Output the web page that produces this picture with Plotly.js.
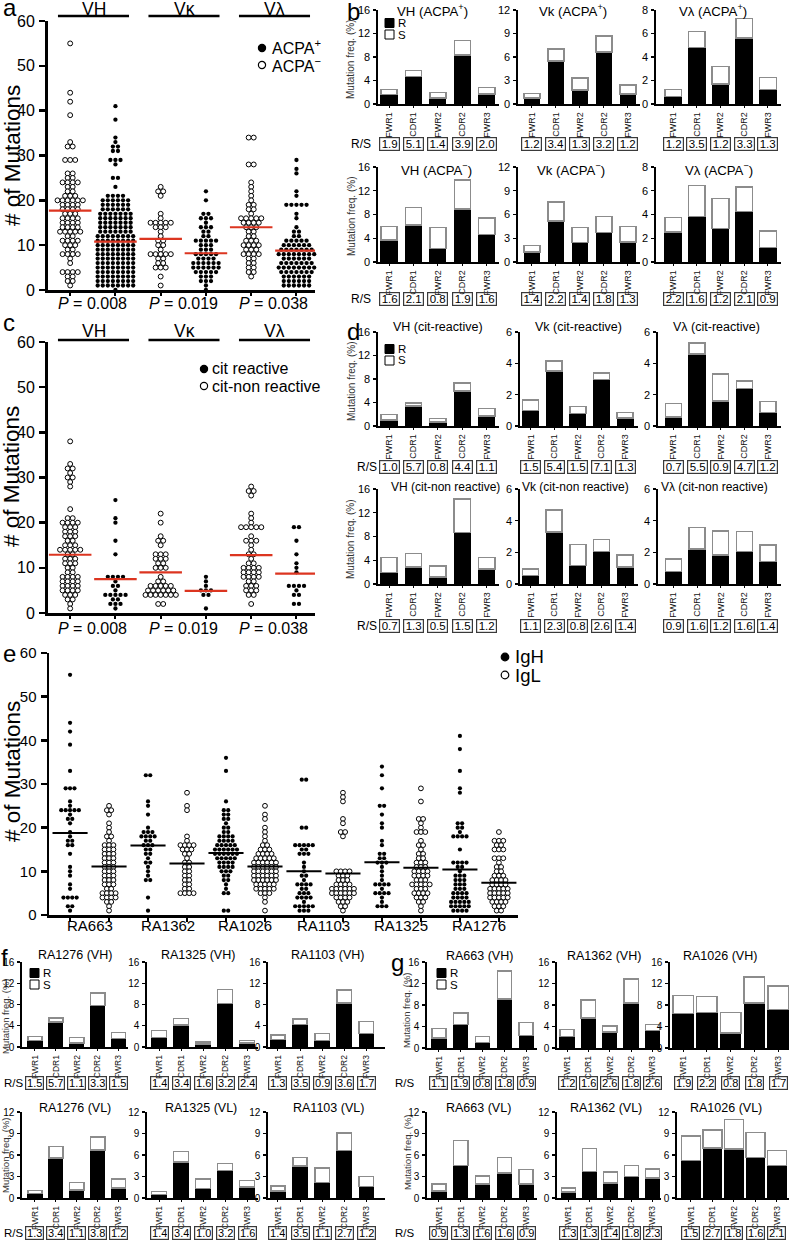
<!DOCTYPE html>
<html><head><meta charset="utf-8">
<script src="https://cdn.plot.ly/plotly-3.0.1.min.js"></script>
<style>html,body{margin:0;padding:0;background:#fff}#chart{width:789px;height:1242px}</style>
</head><body><div id="chart"></div>
<script>
// ---------------- DATA ----------------
const regions=['FWR1','CDR1','FWR2','CDR2','FWR3'];
const vGroups=['VH','Vκ','Vλ'];
const aPvals=['0.008','0.019','0.038'];
const cPvals=['0.008','0.019','0.038'];
const patients=['RA663','RA1362','RA1026','RA1103','RA1325','RA1276'];

// panel a: number of mutations (ACPA- open, ACPA+ filled)
const aVHneg=[55,44,42,39,33,32,32,29,29,29,26,26,25,25,24,24,24,24,23,23,22,22,21,21,21,20,20,20,20,20,20,19,19,19,19,18,18,18,18,17,17,17,16,16,16,16,15,15,15,15,14,14,14,14,13,13,13,13,13,12,12,11,11,11,11,10,10,10,9,9,8,8,8,8,7,6,4,4,4,4,3,3,2,2,1];
const aVHpos=[41,38,34,33,32,32,31,31,29,29,29,28,25,25,23,21,21,21,21,20,20,20,20,20,20,19,19,19,19,19,19,18,18,18,18,18,18,17,17,17,17,17,17,17,16,16,16,16,16,16,16,15,15,15,15,15,15,15,14,14,14,14,14,14,14,13,13,13,13,13,13,13,12,12,12,12,12,12,12,12,11,11,11,11,11,11,11,11,10,10,10,10,10,10,10,10,9,9,9,9,9,9,9,9,8,8,8,8,8,8,8,8,7,7,7,7,7,7,7,7,6,6,6,6,6,6,6,6,5,5,5,5,5,5,5,5,4,4,4,4,4,4,4,4,3,3,3,3,3,3,3,3,2,2,2,2,2,2,2,2,1,1,1,1,1,1,1,1,0];
const aVkneg=[23,22,22,21,17,16,15,15,15,15,15,14,14,14,13,12,11,11,10,10,9,8,8,8,8,8,7,7,6,6,5,5,5,3,1];
const aVkpos=[22,20,17,17,16,16,16,15,14,14,14,13,13,12,12,11,11,11,11,11,10,10,10,9,9,9,8,8,8,8,8,7,7,7,7,6,6,6,6,6,6,5,5,5,5,5,5,4,4,4,4,4,3,3,3,2,2,2,1,0];
const aVlneg=[34,34,28,28,24,23,22,21,20,19,19,18,18,17,16,16,16,16,16,15,15,15,15,14,14,14,13,13,12,12,11,11,11,10,10,10,10,9,9,9,8,8,8,8,7,7,6,6,5,5,4,4,3];
const aVlpos=[29,27,26,22,21,19,19,19,19,19,17,16,14,13,13,12,12,11,11,11,11,11,10,10,10,10,10,10,9,9,9,9,9,9,9,8,8,8,8,8,8,8,8,7,7,7,7,7,7,6,6,6,6,6,6,6,5,5,5,5,5,5,5,5,4,4,4,4,4,4,4,3,3,3,3,3,3,2,2,2,2,2,2,1,1,1,1,1,1];
const aMedians=[17.7,10.8,11.4,8.2,14.0,8.8];

// panel c: cit non-reactive (open) / cit reactive (filled)
const cVHneg=[38,33,32,32,31,30,30,29,28,23,21,21,20,20,20,20,19,19,19,18,18,18,17,17,17,16,16,15,15,15,14,14,14,14,14,13,13,12,12,12,11,11,11,10,10,9,9,8,8,8,8,7,7,7,7,6,6,6,6,5,5,5,5,4,4,4,3,3,2,1];
const cVHpos=[25,21,20,16,13,8,8,8,8,7,6,6,5,4,4,4,4,4,3,3,2,2,2,1];
const cVkneg=[22,20,17,16,16,15,13,13,13,12,12,12,11,11,10,10,10,8,7,7,6,6,6,6,6,5,5,5,5,5,5,4,4,4,4,4,4,4,2,2];
const cVkpos=[8,7,6,5,5,5,4,4,1];
const cVlneg=[28,27,27,26,22,21,20,19,19,19,19,19,17,16,16,16,15,14,13,13,12,11,11,10,10,10,10,9,9,9,9,8,8,8,8,7,7,6,6,6,5,5,5,4,4,2];
const cVlpos=[19,19,16,13,11,10,9,6,6,6,6,5,4,4,2,2];
const cMedians=[12.9,7.5,9.0,4.9,12.8,8.7];

// panel e: per patient IgH (filled) / IgL (open)
const eRA663H=[55,44,42,39,33,29,29,29,26,25,24,24,24,24,24,23,22,22,21,19,18,17,17,16,16,14,11,10,9,7,6,4,4,4,4,2,2,1];
const eRA663L=[25,24,24,23,21,20,19,18,18,17,16,16,16,15,15,15,14,14,14,13,13,13,12,12,12,11,11,11,10,10,10,9,9,9,8,8,8,7,7,7,6,6,5,5,5,5,4,4,4,4,3,3,2,1];
const eRA1362H=[32,32,26,25,23,20,19,19,19,18,18,18,18,17,17,16,16,16,15,15,14,14,13,12,12,11,10,9,8,8,4,1];
const eRA1362L=[28,25,24,18,17,16,16,16,16,15,15,15,14,14,13,12,12,11,11,10,10,9,9,8,8,7,7,6,6,5,5,5,5];
const eRA1026H=[36,33,26,24,24,23,23,22,22,21,20,20,19,19,18,18,18,18,17,17,17,17,16,16,16,16,16,15,15,15,15,15,15,14,14,14,14,14,14,13,13,13,13,13,12,12,12,12,11,11,11,11,10,10,10,9,9,8,8,7,6,5,5,1,1];
const eRA1026L=[25,23,22,20,19,18,17,16,16,15,15,15,14,14,14,14,13,13,13,13,13,12,12,12,12,12,12,11,11,11,11,11,11,10,10,10,10,10,10,9,9,9,9,9,9,8,8,8,8,8,8,7,7,7,7,7,6,6,6,6,6,5,5,5,4,3,1];
const eRA1103H=[31,31,20,20,16,16,16,16,16,15,15,14,14,14,12,11,10,9,9,8,7,7,7,7,6,6,5,5,5,4,4,4,4,3,2,2,2,2,2,1,1,1];
const eRA1103L=[28,27,26,22,21,19,19,18,10,10,10,10,9,9,9,8,8,8,7,7,7,7,6,6,6,6,6,6,5,5,5,5,5,5,4,4,4,4,3,3,3,2,2,1];
const eRA1325H=[34,32,29,25,25,23,21,20,17,16,14,14,13,13,12,12,12,11,10,9,8,7,7,7,7,6,5,5,5,5,4,3,2,2,2];
const eRA1325L=[29,26,22,22,21,20,19,19,19,17,16,16,15,14,14,13,13,12,12,12,11,11,11,10,10,10,10,9,9,9,9,8,8,8,7,7,7,7,7,6,6,6,5,5,5,5,4,4,4,3,3,2,1];
const eRA1276H=[41,38,33,29,28,21,21,20,20,19,18,18,18,18,15,12,12,12,12,11,11,10,9,9,9,8,8,8,7,7,7,6,6,6,5,5,5,5,4,4,4,4,3,3,3,3,3,2,2,2,2,2,1,1,1,1];
const eRA1276L=[19,17,17,17,16,16,15,15,15,13,13,13,12,11,11,10,10,9,9,9,8,8,8,8,7,7,7,7,6,6,6,6,6,5,5,5,5,5,4,4,4,4,4,3,3,3,3,2,2,2,1,1];
const eMeans=[18.8,11.1,15.9,11.8,14.2,11.1,10.0,9.5,12.1,10.8,10.4,7.4];

// panel b: mutation frequency (%) R part and total (R+S), R/S ratios
const bVHposR=[1.6,4.65,1.0,8.35,1.7],  bVHposT=[2.45,5.7,2.0,10.85,2.85], bVHposRS=[1.9,5.1,1.4,3.9,2.0];
const bVkposR=[0.75,5.5,1.8,6.65,1.3],  bVkposT=[1.35,7.05,3.3,8.7,2.4],   bVkposRS=[1.2,3.4,1.3,3.2,1.2];
const bVlposR=[0.65,4.8,1.7,5.6,1.22],  bVlposT=[1.22,6.15,3.2,7.26,2.25], bVlposRS=[1.2,3.5,1.2,3.3,1.3];
const bVHnegR=[3.7,6.2,2.3,8.9,4.6],    bVHnegT=[6.0,9.15,5.8,13.8,7.4],   bVHnegRS=[1.6,2.1,0.8,1.9,1.6];
const bVknegR=[1.27,5.17,2.46,3.7,2.54],bVknegT=[2.1,7.6,4.36,5.76,4.5],   bVknegRS=[1.4,2.2,1.4,1.8,1.3];
const bVlnegR=[2.54,3.84,2.82,4.24,1.24],bVlnegT=[3.73,6.44,5.34,6.33,2.63],bVlnegRS=[2.2,1.6,1.2,2.1,0.9];
// panel d
const dVHcrR=[1.0,3.4,0.7,6.0,1.7],     dVHcrT=[2.0,3.9,1.25,7.3,3.0],     dVHcrRS=[1.0,5.7,0.8,4.4,1.1];
const dVkcrR=[1.0,3.5,0.8,2.97,0.5],    dVkcrT=[1.65,4.15,1.26,3.38,0.85], dVkcrRS=[1.5,5.4,1.5,7.1,1.3];
const dVlcrR=[0.58,4.6,1.6,2.4,0.85],   dVlcrT=[1.43,5.3,3.33,2.86,1.56],  dVlcrRS=[0.7,5.5,0.9,4.7,1.2];
const dVHcnR=[1.97,2.9,1.2,8.7,2.5],    dVHcnT=[4.5,5.1,3.0,14.3,4.5],     dVHcnRS=[0.7,1.3,0.5,1.5,1.2];
const dVkcnR=[0.53,3.3,1.16,2.06,1.07], dVkcnT=[0.95,4.67,2.48,2.8,1.83],  dVkcnRS=[1.1,2.3,0.8,2.6,1.4];
const dVlcnR=[0.8,2.2,1.83,2.04,1.43],  dVlcnT=[1.58,3.56,3.35,3.33,2.46], dVlcnRS=[0.9,1.6,1.2,1.6,1.4];
// panel f
const fRA1276HR=[1.2,4.7,0.8,7.8,1.6],  fRA1276HT=[2.0,5.5,1.75,10.2,2.75], fRA1276HRS=[1.5,5.7,1.1,3.3,1.5];
const fRA1325HR=[1.8,4.1,0.6,8.15,0.8], fRA1325HT=[3.1,5.4,0.95,10.8,1.2],  fRA1325HRS=[1.4,3.4,1.6,3.2,2.4];
const fRA1103HR=[1.4,4.2,1.25,8.3,2.5], fRA1103HT=[2.3,5.3,2.5,10.7,4.8],   fRA1103HRS=[1.3,3.5,0.9,3.6,1.7];
const fRA1276LR=[0.6,5.6,1.15,6.7,1.43],fRA1276LT=[1.06,7.2,2.17,8.5,2.68], fRA1276LRS=[1.3,3.4,1.1,3.8,1.2];
const fRA1325LR=[0.5,5.0,1.34,3.83,1.52],fRA1325LT=[0.88,6.46,2.68,4.8,2.45],fRA1325LRS=[1.4,3.4,1.0,3.2,1.6];
const fRA1103LR=[1.0,4.5,2.17,6.65,1.6],fRA1103LT=[1.66,5.68,4.2,9.1,3.0],  fRA1103LRS=[1.4,3.5,1.1,2.7,1.2];
// panel g
const gRA663HR=[1.9,4.4,1.05,9.15,2.3], gRA663HT=[3.6,6.5,2.1,14.3,4.75],  gRA663HRS=[1.1,1.9,0.8,1.8,0.9];
const gRA1362HR=[2.1,5.55,3.0,8.35,3.3],gRA1362HT=[3.4,8.9,4.1,12.8,4.4],  gRA1362HRS=[1.2,1.6,2.6,1.8,2.6];
const gRA1026HR=[6.4,6.65,2.75,8.35,7.2],gRA1026HT=[9.8,9.6,6.65,13.2,11.5],gRA1026HRS=[1.9,2.2,0.8,1.8,1.7];
const gRA663LR=[0.97,4.57,1.94,3.46,1.94],gRA663LT=[1.94,8.0,3.05,5.63,4.0],gRA663LRS=[0.9,1.3,1.6,1.6,0.9];
const gRA1362LR=[0.83,3.7,2.12,3.0,2.8],gRA1362LT=[1.38,6.9,3.65,4.57,4.06],gRA1362LRS=[1.3,1.3,1.4,1.8,2.3];
const gRA1026LR=[5.26,6.97,6.83,5.68,4.57],gRA1026LT=[8.67,9.46,10.94,9.14,6.65],gRA1026LRS=[1.5,2.7,1.8,1.6,2.1];

// ---------------- LAYOUT HELPERS ----------------
const W=789,H=1242;
const FONT='"Liberation Sans", Arial, Helvetica, sans-serif';
const traces=[],annotations=[],shapes=[];
const layout={width:W,height:H,margin:{l:0,r:0,t:0,b:0,pad:0},showlegend:false,barmode:'stack',
  paper_bgcolor:'#fff',plot_bgcolor:'rgba(0,0,0,0)',font:{family:FONT,color:'#000',size:12},
  annotations:annotations,shapes:shapes,hovermode:false};
let n=0;
function axes(x0,x1,lo,hi,yt,yb,ymax,xo,yo){
  n++; const s=n===1?'':String(n);
  layout['xaxis'+s]=Object.assign({domain:[x0/W,x1/W],range:[lo,hi],anchor:'y'+s,showgrid:false,zeroline:false,showline:true,linecolor:'#000',tickcolor:'#000',fixedrange:true},xo);
  layout['yaxis'+s]=Object.assign({domain:[1-yb/H,1-yt/H],range:[0,ymax],anchor:'x'+s,showgrid:false,zeroline:false,showline:true,linecolor:'#000',tickcolor:'#000',fixedrange:true},yo);
  return {xa:'x'+s,ya:'y'+s};
}
function txt(t,x,y,size,opt){
  annotations.push(Object.assign({text:t,x:x/W,y:1-y/H,xref:'paper',yref:'paper',showarrow:false,
    font:{size:size,family:FONT,color:'#000'},xanchor:'center',yanchor:'middle'},opt||{}));
}
function rect(x0,y0,x1,y1,fill,lc,lw){shapes.push({type:'rect',xref:'paper',yref:'paper',x0:x0/W,x1:x1/W,y0:1-y1/H,y1:1-y0/H,fillcolor:fill,line:{color:lc,width:lw}});}
function dot(cx,cy,r,filled){shapes.push({type:'circle',xref:'paper',yref:'paper',x0:(cx-r)/W,x1:(cx+r)/W,y0:1-(cy+r)/H,y1:1-(cy-r)/H,fillcolor:filled?'#000':'#fff',line:{color:'#000',width:1.2}});}

function barPanel(p){
  const {xa,ya}=axes(p.x0,p.x1,p.lo,p.hi,p.yt,p.yb,p.ymax,
    {tickmode:'array',tickvals:[0,1,2,3,4],ticktext:regions,tickangle:-90,ticks:'outside',ticklen:2,tickwidth:1,linewidth:1.6,ticklabelstandoff:1,tickfont:{size:p.xf,family:FONT,color:'#111'}},
    {tickmode:'linear',tick0:0,dtick:p.dt,ticks:'outside',ticklen:3,tickwidth:1.2,linewidth:1.6,ticklabelstandoff:1,tickfont:{size:p.yf,family:FONT,color:'#000'}});
  traces.push({type:'bar',x:[0,1,2,3,4],y:p.R,width:p.bw,xaxis:xa,yaxis:ya,marker:{color:'#000',line:{color:'#000',width:1}}});
  traces.push({type:'bar',x:[0,1,2,3,4],y:p.T.map((t,i)=>+(t-p.R[i]).toFixed(3)),width:p.bw,xaxis:xa,yaxis:ya,marker:{color:'#fff',line:{color:'#8c8c8c',width:1.5}}});
  txt(p.title,p.tx,p.ty,p.tf);
  p.rs.forEach((v,i)=>annotations.push({text:v.toFixed(1),x:i,xref:xa,y:1-p.rsy/H,yref:'paper',showarrow:false,
    font:{size:p.rsf,family:FONT,color:'#000'},bordercolor:'#3a3a3a',borderwidth:1.2,borderpad:1,width:p.rsw,height:p.rsh,
    xanchor:'center',yanchor:'middle',align:'center',valign:'middle'}));
}
function swarm(vals,c,step){
  const g=new Map(); vals.forEach(v=>g.set(v,(g.get(v)||0)+1));
  const xs=[],ys=[];
  g.forEach((cnt,v)=>{for(let i=0;i<cnt;i++){xs.push(c+(i-(cnt-1)/2)*step);ys.push(v);}});
  return {xs,ys};
}
function dotPanel(cols,box,opt){
  const {xa,ya}=axes(box.x0,box.x1,box.lo,box.hi,box.yt,box.yb,60,
    {tickmode:'array',tickvals:cols.map((c,i)=>i),showticklabels:false,ticks:'outside',ticklen:opt.xtl,tickwidth:2,linewidth:opt.lw},
    {tickmode:'linear',tick0:0,dtick:10,ticks:'outside',ticklen:6,tickwidth:2.5,linewidth:opt.lw,ticklabelstandoff:1,tickfont:{size:opt.yf,family:FONT,color:'#000'}});
  cols.forEach((c,i)=>{
    const s=swarm(c.v,i,opt.step);
    traces.push({type:'scatter',mode:'markers',x:s.xs,y:s.ys,xaxis:xa,yaxis:ya,cliponaxis:false,
      marker:{symbol:'circle',size:c.open?opt.ms+0.6:opt.ms,color:c.open?'#fff':'#000',line:{color:'#000',width:c.open?1:0}}});
  });
  cols.forEach((c,i)=>{
    traces.push({type:'scatter',mode:'lines',x:[i-opt.hw,i+opt.hw],y:[c.m,c.m],xaxis:xa,yaxis:ya,line:{color:opt.lc,width:opt.lwm}});
  });
  return {xa,ya};
}

// ---------------- PANEL a ----------------
const aBox={x0:48,x1:315,lo:-0.49,hi:5.41,yt:21,yb:290};
const aCols=[{v:aVHneg,open:true},{v:aVHpos},{v:aVkneg,open:true},{v:aVkpos},{v:aVlneg,open:true},{v:aVlpos}];
aCols.forEach((c,i)=>c.m=aMedians[i]);
const aAx=dotPanel(aCols,aBox,{step:0.112,ms:4.3,hw:0.47,lc:'#dc3520',lwm:2.2,lw:3,yf:16,xtl:3});
// ---------------- PANEL c ----------------
const cBox={x0:48,x1:315,lo:-0.49,hi:5.41,yt:342,yb:613};
const cCols=[{v:cVHneg,open:true},{v:cVHpos},{v:cVkneg,open:true},{v:cVkpos},{v:cVlneg,open:true},{v:cVlpos}];
cCols.forEach((c,i)=>c.m=cMedians[i]);
const cAx=dotPanel(cCols,cBox,{step:0.112,ms:4.3,hw:0.47,lc:'#dc3520',lwm:2.2,lw:3,yf:16,xtl:3});
// headers, P values
[[aAx,16,9,304,aPvals],[cAx,340,331,628,cPvals]].forEach(([ax,ly,ty,py,pv])=>{
  vGroups.forEach((g,k)=>{
    shapes.push({type:'line',xref:ax.xa,yref:'paper',x0:2*k-0.27,x1:2*k+1.3,y0:1-ly/H,y1:1-ly/H,line:{color:'#000',width:2.5}});
    annotations.push({text:g,x:2*k+0.52,xref:ax.xa,y:1-ty/H,yref:'paper',showarrow:false,font:{size:17.5,family:FONT,color:'#000'},xanchor:'center',yanchor:'middle'});
    annotations.push({text:'<i>P</i> = '+pv[k],x:2*k+0.5,xref:ax.xa,y:1-py/H,yref:'paper',showarrow:false,font:{size:16,family:FONT,color:'#000'},xanchor:'center',yanchor:'middle'});
  });
});
// ---------------- PANEL e ----------------
const eBox={x0:49,x1:518,lo:-0.54,hi:11.49,yt:653,yb:915};
const eVals=[eRA663H,eRA663L,eRA1362H,eRA1362L,eRA1026H,eRA1026L,eRA1103H,eRA1103L,eRA1325H,eRA1325L,eRA1276H,eRA1276L];
const eCols=eVals.map((v,i)=>({v:v,open:i%2===1,m:eMeans[i]}));
const eAx=dotPanel(eCols,eBox,{step:0.113,ms:4.2,hw:0.45,lc:'#000',lwm:2,lw:2.5,yf:15,xtl:4});
patients.forEach((p,k)=>annotations.push({text:p,x:2*k+0.5,xref:eAx.xa,y:1-925/H,yref:'paper',showarrow:false,font:{size:15,family:FONT,color:'#000'},xanchor:'center',yanchor:'middle'}));

// y titles for dot panels
txt('# of Mutations',12,156,22.5,{textangle:-90});
txt('# of Mutations',12,477,22.5,{textangle:-90});
txt('# of Mutations',12,772,22.5,{textangle:-90});
// legends of dot panels
dot(262,48,3.6,true); txt('ACPA<sup>+</sup>',270,47,16,{xanchor:'left'});
dot(262,65,3.6,false); txt('ACPA<sup>−</sup>',270,65,16,{xanchor:'left'});
dot(204,369,3.6,true); txt('cit reactive',210,368,16,{xanchor:'left'});
dot(204,386,3.6,false); txt('cit-non reactive',210,386,16,{xanchor:'left'});
dot(505,657,3.8,true); txt('IgH',513,656,18.5,{xanchor:'left'});
dot(505,675,3.8,false); txt('IgL',513,675,18.5,{xanchor:'left'});

// ---------------- PANELS b & d ----------------
const bdCols=[{x0:378,x1:499,lo:-0.45,hi:4.5,bw:0.66},{x0:518,x1:640,lo:-0.58,hi:4.5,bw:0.66},{x0:656,x1:781,lo:-0.72,hi:4.55,bw:0.7}];
const ddCols=[{x0:378,x1:499,lo:-0.45,hi:4.5,bw:0.67},{x0:520,x1:638,lo:-0.45,hi:4.55,bw:0.68},{x0:658,x1:781,lo:-0.65,hi:4.55,bw:0.68}];
function bd(col,yt,yb,ymax,dt,R,T,RS,title,tx,ty,rsy,tf){
  barPanel(Object.assign({},col,{yt:yt,yb:yb,ymax:ymax,dt:dt,R:R,T:T,rs:RS,title:title,tx:tx,ty:ty,tf:tf,xf:9,yf:11,rsy:rsy,rsf:11.5,rsw:17,rsh:10}));
}
bd(bdCols[0],10,104,16,4,bVHposR,bVHposT,bVHposRS,'VH (ACPA<sup>+</sup>)',433,10,144,13.2);
bd(bdCols[1],10,104,12,3,bVkposR,bVkposT,bVkposRS,'Vk (ACPA<sup>+</sup>)',573,10,144,13.2);
bd(bdCols[2],10,104,8,2,bVlposR,bVlposT,bVlposRS,'Vλ (ACPA<sup>+</sup>)',713,10,144,13.2);
bd(bdCols[0],167,262,16,4,bVHnegR,bVHnegT,bVHnegRS,'VH (ACPA<sup>−</sup>)',436,170,299,13.2);
bd(bdCols[1],167,262,12,3,bVknegR,bVknegT,bVknegRS,'Vk (ACPA<sup>−</sup>)',571,170,299,13.2);
bd(bdCols[2],167,262,8,2,bVlnegR,bVlnegT,bVlnegRS,'Vλ (ACPA<sup>−</sup>)',719,170,299,13.2);
bd(ddCols[0],332,426,16,4,dVHcrR,dVHcrT,dVHcrRS,'VH (cit-reactive)',438,327,467,12.5);
bd(ddCols[1],332,426,6,2,dVkcrR,dVkcrT,dVkcrRS,'Vk (cit-reactive)',578,327,467,12.5);
bd(ddCols[2],332,426,6,2,dVlcrR,dVlcrT,dVlcrRS,'Vλ (cit-reactive)',716,327,467,12.5);
bd(ddCols[0],489,584,16,4,dVHcnR,dVHcnT,dVHcnRS,'VH (cit-non reactive)',445,487,626,12);
bd(ddCols[1],489,584,6,2,dVkcnR,dVkcnT,dVkcnRS,'Vk (cit-non reactive)',575,487,626,12);
bd(ddCols[2],489,584,6,2,dVlcnR,dVlcnT,dVlcnRS,'Vλ (cit-non reactive)',714,487,626,12);
[144,299].forEach(y=>txt('R/S',361,y,12));
[467,626].forEach(y=>txt('R/S',367,y,12));
[60,217,382,540].forEach(y=>txt('Mutation freq. (%)',351,y,10,{textangle:-90,font:{size:10,family:FONT,color:'#333'}}));

// ---------------- PANELS f & g ----------------
const fCols=[{x0:22,x1:128,lo:-0.62,hi:4.45,bw:0.68},{x0:147,x1:258,lo:-0.55,hi:4.5,bw:0.68},{x0:268,x1:385,lo:-0.45,hi:4.85,bw:0.65}];
const gColsT=[{x0:427,x1:537,lo:-0.55,hi:4.5,bw:0.65},{x0:557,x1:661,lo:-0.47,hi:4.4,bw:0.67},{x0:670,x1:789,lo:-0.55,hi:4.46,bw:0.86}];
const gColsB=[{x0:427,x1:537,lo:-0.55,hi:4.5,bw:0.65},{x0:557,x1:661,lo:-0.55,hi:4.4,bw:0.67},{x0:677,x1:789,lo:-0.65,hi:4.56,bw:0.88}];
function fg(col,yt,yb,ymax,dt,R,T,RS,title,tx,ty,rsy){
  barPanel(Object.assign({},col,{yt:yt,yb:yb,ymax:ymax,dt:dt,R:R,T:T,rs:RS,title:title,tx:tx,ty:ty,tf:12.5,xf:8.5,yf:10,rsy:rsy,rsf:11,rsw:15,rsh:10}));
}
fg(fCols[0],962,1047,16,4,fRA1276HR,fRA1276HT,fRA1276HRS,'RA1276 (VH)',75,955,1083);
fg(fCols[1],962,1047,16,4,fRA1325HR,fRA1325HT,fRA1325HRS,'RA1325 (VH)',198,955,1083);
fg(fCols[2],962,1047,16,4,fRA1103HR,fRA1103HT,fRA1103HRS,'RA1103 (VH)',327,955,1083);
fg(fCols[0],1112,1198,12,3,fRA1276LR,fRA1276LT,fRA1276LRS,'RA1276 (VL)',75,1108,1233);
fg(fCols[1],1112,1198,12,3,fRA1325LR,fRA1325LT,fRA1325LRS,'RA1325 (VL)',201,1108,1233);
fg(fCols[2],1112,1198,12,3,fRA1103LR,fRA1103LT,fRA1103LRS,'RA1103 (VL)',328,1108,1233);
fg(gColsT[0],962,1048,16,4,gRA663HR,gRA663HT,gRA663HRS,'RA663 (VH)',479,956,1083);
fg(gColsT[1],962,1048,16,4,gRA1362HR,gRA1362HT,gRA1362HRS,'RA1362 (VH)',604,956,1083);
fg(gColsT[2],962,1048,16,4,gRA1026HR,gRA1026HT,gRA1026HRS,'RA1026 (VH)',720,956,1083);
fg(gColsB[0],1112,1198,12,3,gRA663LR,gRA663LT,gRA663LRS,'RA663 (VL)',478,1108,1233);
fg(gColsB[1],1112,1198,12,3,gRA1362LR,gRA1362LT,gRA1362LRS,'RA1362 (VL)',606,1108,1233);
fg(gColsB[2],1112,1198,12,3,gRA1026LR,gRA1026LT,gRA1026LRS,'RA1026 (VL)',726,1108,1233);
[1083,1233].forEach(y=>{txt('R/S',14,y,11.5);txt('R/S',405,y,11.5);});
[[5,1016],[5,1155],[407,1010],[407,1152]].forEach(([x,y])=>txt('Mutation freq. (%)',x,y,9.5,{textangle:-90,font:{size:9.5,family:FONT,color:'#333'}}));

// R / S legends
[[385,23],[385,349],[30,973],[437,973]].forEach(([x,y])=>{
  rect(x,y-4.5,x+9,y+4.5,'#000','#000',1); txt('R',x+11,y,11.5,{xanchor:'left'});
  rect(x,y+7,x+9,y+16,'#fff','#000',1); txt('S',x+11,y+11.5,11.5,{xanchor:'left'});
});

// panel letters
[['a',1,7],['b',345,11],['c',1,322],['d',345,331],['e',1,653],['f',-1,957],['g',389,962]].forEach(([l,x,y])=>txt(l,x,y,24,{xanchor:'left'}));

Plotly.newPlot('chart',traces,layout,{staticPlot:true,displayModeBar:false});
</script></body></html>
